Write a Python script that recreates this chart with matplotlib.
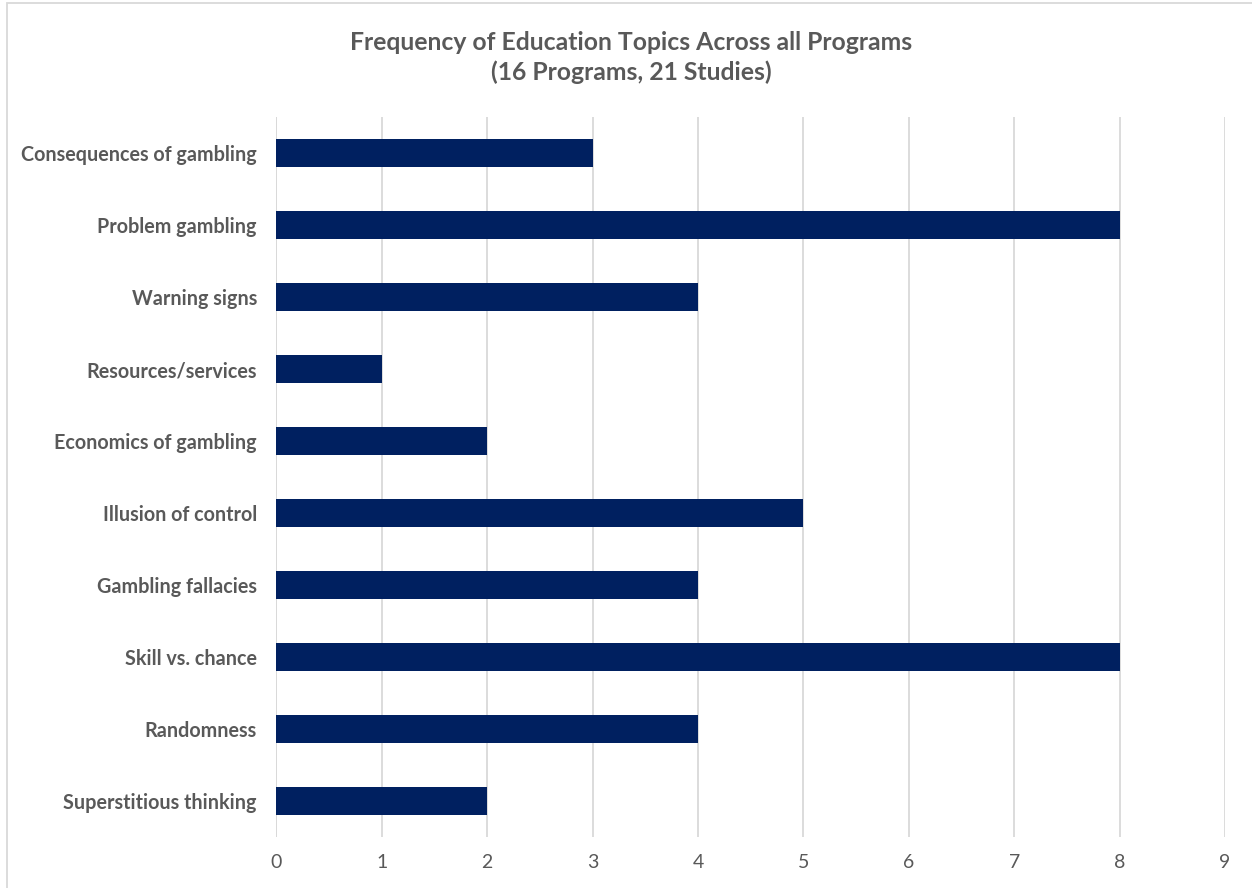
import matplotlib.pyplot as plt
from matplotlib.patches import Rectangle

plt.rcParams['font.family'] = ['Lato', 'DejaVu Sans']

topics = ['Consequences of gambling', 'Problem gambling', 'Warning signs',
          'Resources/services', 'Economics of gambling', 'Illusion of control',
          'Gambling fallacies', 'Skill vs. chance', 'Randomness',
          'Superstitious thinking']
counts = [3, 8, 4, 1, 2, 5, 4, 8, 4, 2]
xticks = [0, 1, 2, 3, 4, 5, 6, 7, 8, 9]

fig = plt.figure(figsize=(12.52, 8.88), dpi=100)
ax = fig.add_axes([0.2208, 0.0574, 0.7576, 0.8108])

pos = list(range(len(topics)))[::-1]
ax.barh(pos, counts, height=0.39, color='#002060', zorder=3)

ax.set_xlim(0, 9)
ax.set_ylim(-0.5, len(topics) - 0.5)
ax.set_xticks(xticks)
ax.set_xticklabels([str(t) for t in xticks], fontsize=14)
ax.set_yticks(pos)
ax.set_yticklabels(topics, fontweight='bold', fontsize=14.2)

ax.grid(axis='x', color='#d9d9d9', linewidth=1.3, zorder=0)
ax.axvline(0, color='#d9d9d9', linewidth=1.3, zorder=1)
for s in ax.spines.values():
    s.set_visible(False)
ax.tick_params(axis='both', length=0, colors='#595959')
ax.tick_params(axis='x', pad=12)
ax.tick_params(axis='y', pad=14)

fig.text(0.504, 0.935, 'Frequency of Education Topics Across all Programs\n(16 Programs, 21 Studies)',
         ha='center', va='center', fontsize=17.8, fontweight='bold', color='#595959',
         linespacing=1.3)

# chart area border (only top and left edges fall inside the image)
fig.patches.append(Rectangle((7 / 1252, -0.1), 1.2, 1.1 - 3 / 888, transform=fig.transFigure,
                             fill=False, edgecolor='#d9d9d9', linewidth=1.3))

fig.savefig('out.png', dpi=100)
